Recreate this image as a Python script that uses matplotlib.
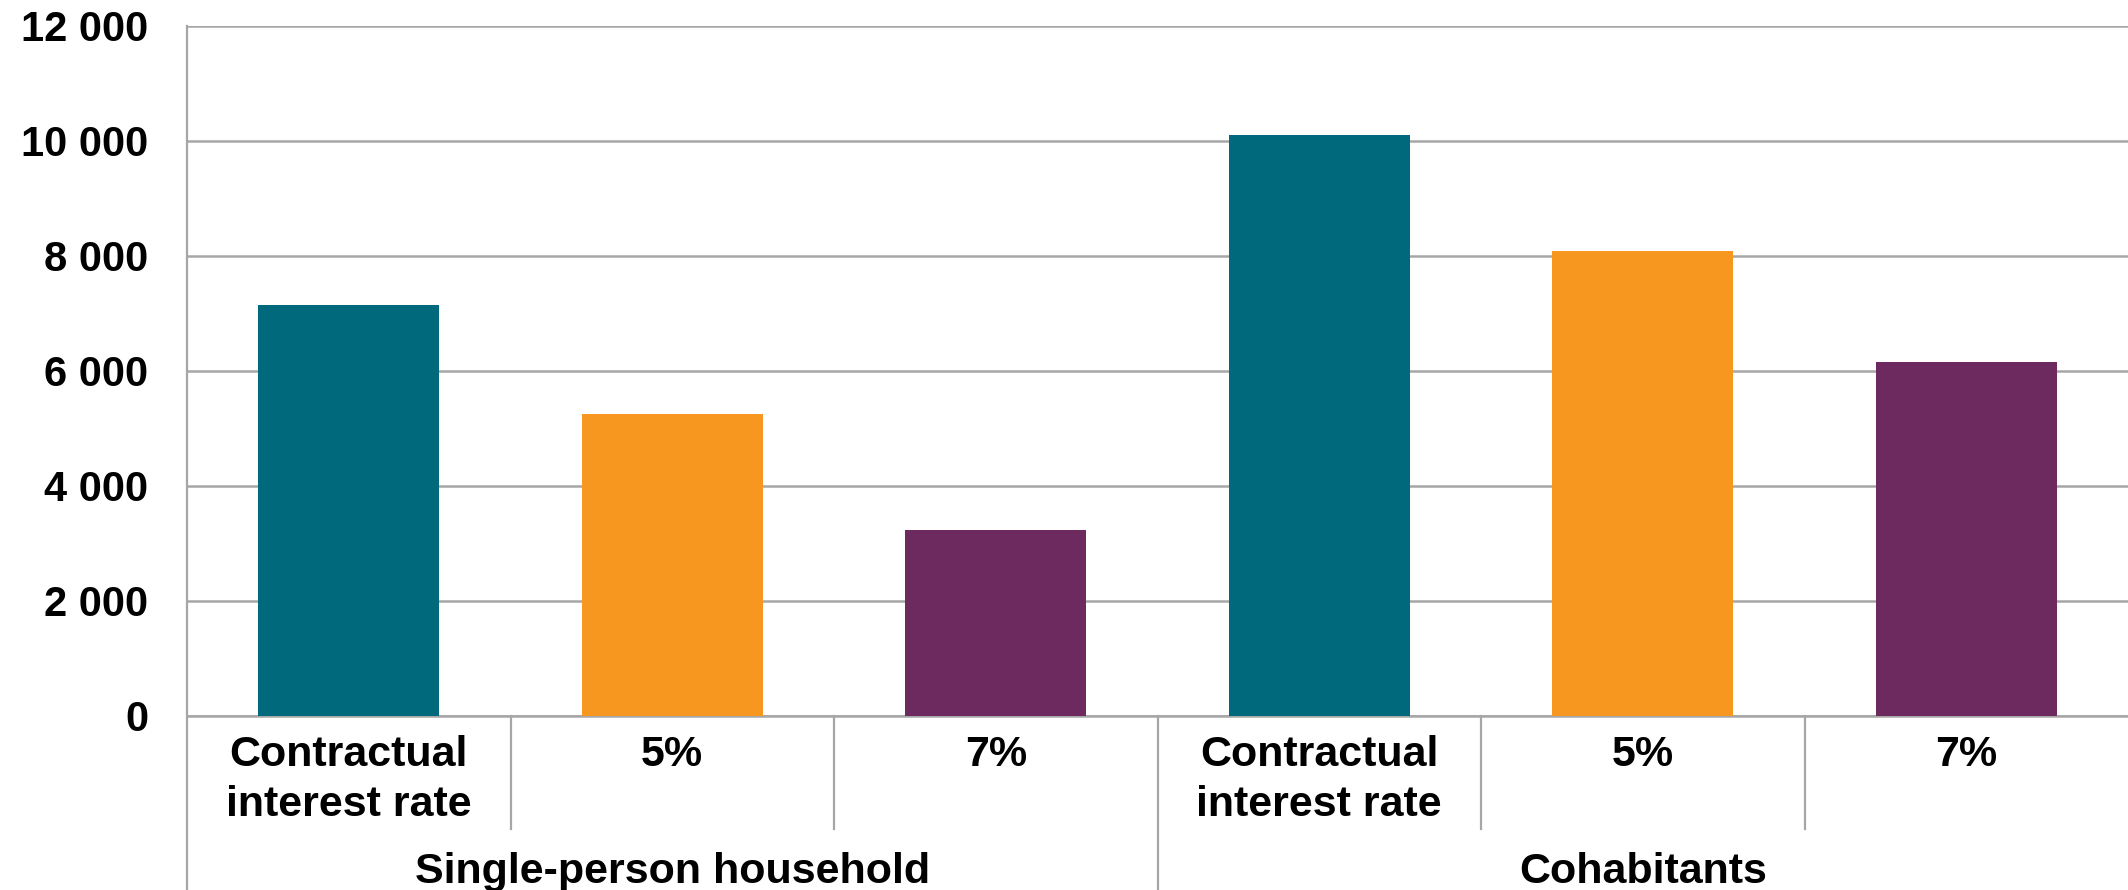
import matplotlib.pyplot as plt
from matplotlib.lines import Line2D
from matplotlib.transforms import blended_transform_factory
from matplotlib.ticker import FuncFormatter

plt.rcParams['font.family'] = ['Liberation Sans', 'DejaVu Sans']
plt.rcParams['font.weight'] = 'bold'

groups = ['Single-person household', 'Cohabitants']
scenarios = ['Contractual\ninterest rate', '5%', '7%']
single_vals = [7150, 5250, 3230]
cohab_vals = [10100, 8090, 6150]
colors = ['#006A7C', '#F7971F', '#6C2A5F']

grid_col = '#A6A6A6'

values = single_vals + cohab_vals
x = list(range(len(values)))

fig = plt.figure(figsize=(21.28, 8.9), dpi=100)
ax = fig.add_axes([0.0879, 0.196, 0.9121, 0.7748])

ax.bar(x, values, width=0.56, color=colors * 2, zorder=3)

ax.set_xlim(-0.5, 5.5)
ax.set_ylim(0, 12000)
ax.set_yticks(range(0, 12001, 2000))
ax.yaxis.set_major_formatter(FuncFormatter(lambda v, p: f'{int(v):,}'.replace(',', ' ')))
ax.tick_params(axis='y', length=0, pad=28, labelsize=30)
ax.set_xticks([])
ax.grid(axis='y', color=grid_col, linewidth=1.8)
ax.set_axisbelow(True)

for s in ['top', 'right', 'left']:
    ax.spines[s].set_visible(False)
ax.spines['bottom'].set_color(grid_col)
ax.spines['bottom'].set_linewidth(1.8)

# category separators below the axis, x in data, y in figure fraction
tr = blended_transform_factory(ax.transData, fig.transFigure)
y_zero = 0.196
for xs in [0.5, 1.5, 3.5, 4.5]:
    fig.add_artist(Line2D([xs, xs], [y_zero, 0.0685], transform=tr, color=grid_col, lw=1.6))
for xs in [-0.5, 2.5]:
    top = 0.9708 if xs == -0.5 else y_zero
    fig.add_artist(Line2D([xs, xs], [0, top], transform=tr, color=grid_col, lw=1.6))

# scenario and group labels
for i in x:
    ax.text(i, 1 - 735 / 890, scenarios[i % 3], transform=tr, ha='center', va='top',
            fontsize=31, fontweight='bold', linespacing=1.33)
for g, name in enumerate(groups):
    ax.text(1 + 3 * g, 1 - 872 / 890, name, transform=tr, ha='center', va='center',
            fontsize=31, fontweight='bold')

plt.savefig('out.png', dpi=100)
